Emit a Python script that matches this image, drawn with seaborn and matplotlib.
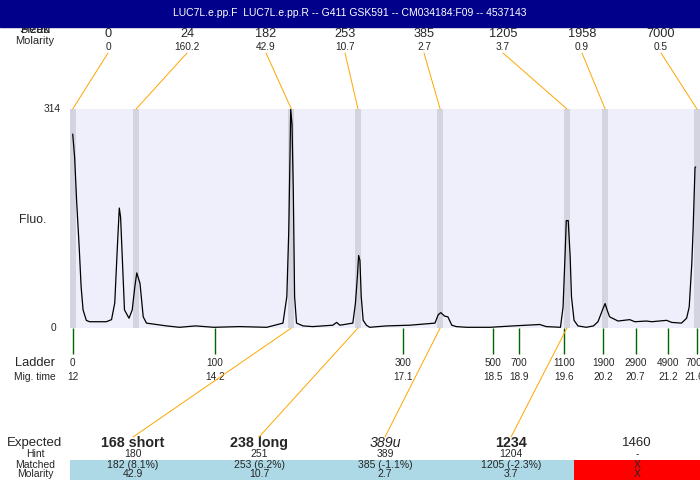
import matplotlib
matplotlib.use("Agg")
from matplotlib import pyplot as plt
from matplotlib.patches import Rectangle, ConnectionPatch
from matplotlib.transforms import blended_transform_factory
import seaborn as sns
import pandas as pd

title = "LUC7L.e.pp.F  LUC7L.e.pp.R -- G411 GSK591 -- CM034184:F09 -- 4537143"

# electropherogram trace (migration time, fluorescence)
trace_time = [12.00, 12.03, 12.06, 12.10, 12.13, 12.16, 12.21, 12.26, 12.52, 12.60,
              12.65, 12.69, 12.72, 12.74, 12.77, 12.80, 12.87, 12.92, 12.96, 12.99,
              13.04, 13.09, 13.14, 13.45, 13.65, 13.90, 14.18, 14.58, 15.00, 15.25,
              15.31, 15.34, 15.36, 15.37, 15.39, 15.41, 15.43, 15.46, 15.56, 15.71,
              16.02, 16.08, 16.13, 16.33, 16.37, 16.40, 16.42, 16.44, 16.46, 16.49,
              16.54, 16.59, 16.85, 17.21, 17.60, 17.65, 17.69, 17.75, 17.80, 17.86,
              17.93, 18.09, 18.45, 18.81, 19.22, 19.32, 19.54, 19.58, 19.61, 19.63,
              19.66, 19.69, 19.71, 19.75, 19.81, 19.94, 20.05, 20.12, 20.19, 20.23,
              20.26, 20.30, 20.43, 20.61, 20.69, 20.87, 20.95, 21.18, 21.26, 21.41,
              21.49, 21.53, 21.57, 21.59, 21.62, 21.63]
trace_fluo = [278, 244, 183, 116, 59, 26, 11, 9, 9, 12,
              36, 116, 172, 159, 93, 26, 14, 26, 59, 79,
              64, 16, 7, 3, 1, 3, 1, 2, 1, 7,
              45, 140, 254, 314, 292, 197, 45, 7, 3, 2,
              4, 8, 4, 7, 35, 73, 104, 97, 45, 11,
              4, 1, 3, 4, 7, 19, 22, 17, 16, 4,
              2, 1, 1, 3, 5, 2, 1, 30, 102, 154,
              154, 102, 45, 11, 3, 1, 3, 9, 26, 35,
              26, 16, 10, 12, 9, 10, 9, 11, 8, 7,
              14, 30, 92, 140, 230, 231]

# called peaks
peak_time = [12.00, 12.98, 15.38, 16.41, 17.68, 19.64, 20.23, 21.65]
peak_size = ["0", "24", "182", "253", "385", "1205", "1958", "7000"]
peak_molarity = ["0", "160.2", "42.9", "10.7", "2.7", "3.7", "0.9", "0.5"]

# ladder
ladder_size = ["0", "100", "300", "500", "700", "1100", "1900", "2900", "4900", "7000"]
ladder_time = [12.0, 14.2, 17.1, 18.5, 18.9, 19.6, 20.2, 20.7, 21.2, 21.65]

# expected fragments and their matches
expected = ["168 short", "238 long", "389u", "1234", "1460"]
hint = ["180", "251", "389", "1204", "-"]
matched = ["182 (8.1%)", "253 (6.2%)", "385 (-1.1%)", "1205 (-2.3%)", "X"]
matched_molarity = ["42.9", "10.7", "2.7", "3.7", "X"]
matched_peak = [2, 3, 4, 5, None]

sns.set_style("white")
plt.rcParams["font.family"] = ["Liberation Sans", "DejaVu Sans"]

fig = plt.figure(figsize=(7, 4.8), dpi=100)

# full-figure layer in pixel units for the labels
bg = fig.add_axes([0, 0, 1, 1])
bg.set_xlim(0, 700)
bg.set_ylim(480, 0)
bg.axis("off")

ax = fig.add_axes([70 / 700, (480 - 328) / 480, 630 / 700, 219 / 480])
ax.set_facecolor("#efeffb")
for t in peak_time:
    ax.axvspan(t - 0.045, t + 0.045, color="#d4d4e0", lw=0, zorder=1)
df = pd.DataFrame({"time": trace_time, "fluo": trace_fluo})
sns.lineplot(data=df, x="time", y="fluo", color="black", lw=0.9, ax=ax, zorder=3)
ax.set_xlim(11.958, 21.697)
ax.set_ylim(0, 314)
ax.set_xticks([])
ax.set_yticks([])
ax.set_xlabel("")
ax.set_ylabel("")
sns.despine(ax=ax, left=True, bottom=True)

# title banner
bg.add_patch(Rectangle((0, 0), 700, 27, color="#00008b", zorder=5))
bg.text(350, 13.5, title, color="white", fontsize=7.5, ha="center", va="center", zorder=6)

# peak header (partly hidden under the banner)
bg.text(35, 30, "Peak", fontsize=9, ha="center", va="center", zorder=1)
bg.text(35, 30, "Sized", fontsize=9, ha="center", va="center", zorder=1)
bg.text(35, 41, "Molarity", fontsize=8, ha="center", va="center")
for i, (s, m, t) in enumerate(zip(peak_size, peak_molarity, peak_time)):
    x = 108 + 79 * i
    bg.text(x, 34, s, fontsize=9.2, ha="center", va="center")
    bg.text(x, 47, m, fontsize=7.3, ha="center", va="center")
    fig.add_artist(ConnectionPatch(xyA=(t, 1), coordsA=ax.get_xaxis_transform(),
                                   xyB=(x, 53), coordsB=bg.transData,
                                   color="orange", lw=0.7))

# y labels
ytr = blended_transform_factory(bg.transData, ax.transData)
bg.text(52, 314, "314", transform=ytr, fontsize=7.3, ha="center", va="center")
bg.text(53, 0, "0", transform=ytr, fontsize=7.3, ha="center", va="center")
bg.text(33, 220, "Fluo.", fontsize=8.8, ha="center", va="center")

# ladder
ltr = blended_transform_factory(ax.transData, bg.transData)
ax.vlines(ladder_time, 328, 354, transform=ltr, clip_on=False, color="#006400", lw=1)
for s, t in zip(ladder_size, ladder_time):
    ax.text(t, 363, s, transform=ltr, fontsize=7.2, ha="center", va="center", clip_on=False)
    ax.text(t, 377, f"{t:g}", transform=ltr, fontsize=7.2, ha="center", va="center", clip_on=False)
bg.text(35, 363, "Ladder", fontsize=9.3, ha="center", va="center")
bg.text(35, 377, "Mig. time", fontsize=7.4, ha="center", va="center")

# expected table
styles = [("bold", "normal"), ("bold", "normal"), ("normal", "italic"),
          ("bold", "normal"), ("normal", "normal")]
bg.text(35, 443, "Expected", fontsize=9.5, ha="center", va="center")
bg.text(35, 454, "Hint", fontsize=7.5, ha="center", va="center")
bg.text(35, 465, "Matched", fontsize=7.5, ha="center", va="center")
bg.text(35, 474, "Molarity", fontsize=7.5, ha="center", va="center")
for i in range(len(expected)):
    x = 133 + 126 * i
    cell = "#add8e6" if matched_peak[i] is not None else "#ff0000"
    bg.add_patch(Rectangle((70 + 126 * i, 460), 126, 20, color=cell, lw=0, zorder=0))
    w, st = styles[i]
    bg.text(x, 443, expected[i], fontsize=10.3 if i < 4 else 9.5, fontweight=w,
            fontstyle=st, ha="center", va="center")
    bg.text(x, 454, hint[i], fontsize=7.5, ha="center", va="center")
    bg.text(x, 465, matched[i], fontsize=7.5, ha="center", va="center")
    bg.text(x, 474, matched_molarity[i], fontsize=7.5, ha="center", va="center")
    if matched_peak[i] is not None:
        fig.add_artist(ConnectionPatch(xyA=(peak_time[matched_peak[i]], 0),
                                       coordsA=ax.get_xaxis_transform(),
                                       xyB=(x, 437), coordsB=bg.transData,
                                       color="orange", lw=0.7))

fig.savefig("out.png", dpi=100)
plt.close(fig)
